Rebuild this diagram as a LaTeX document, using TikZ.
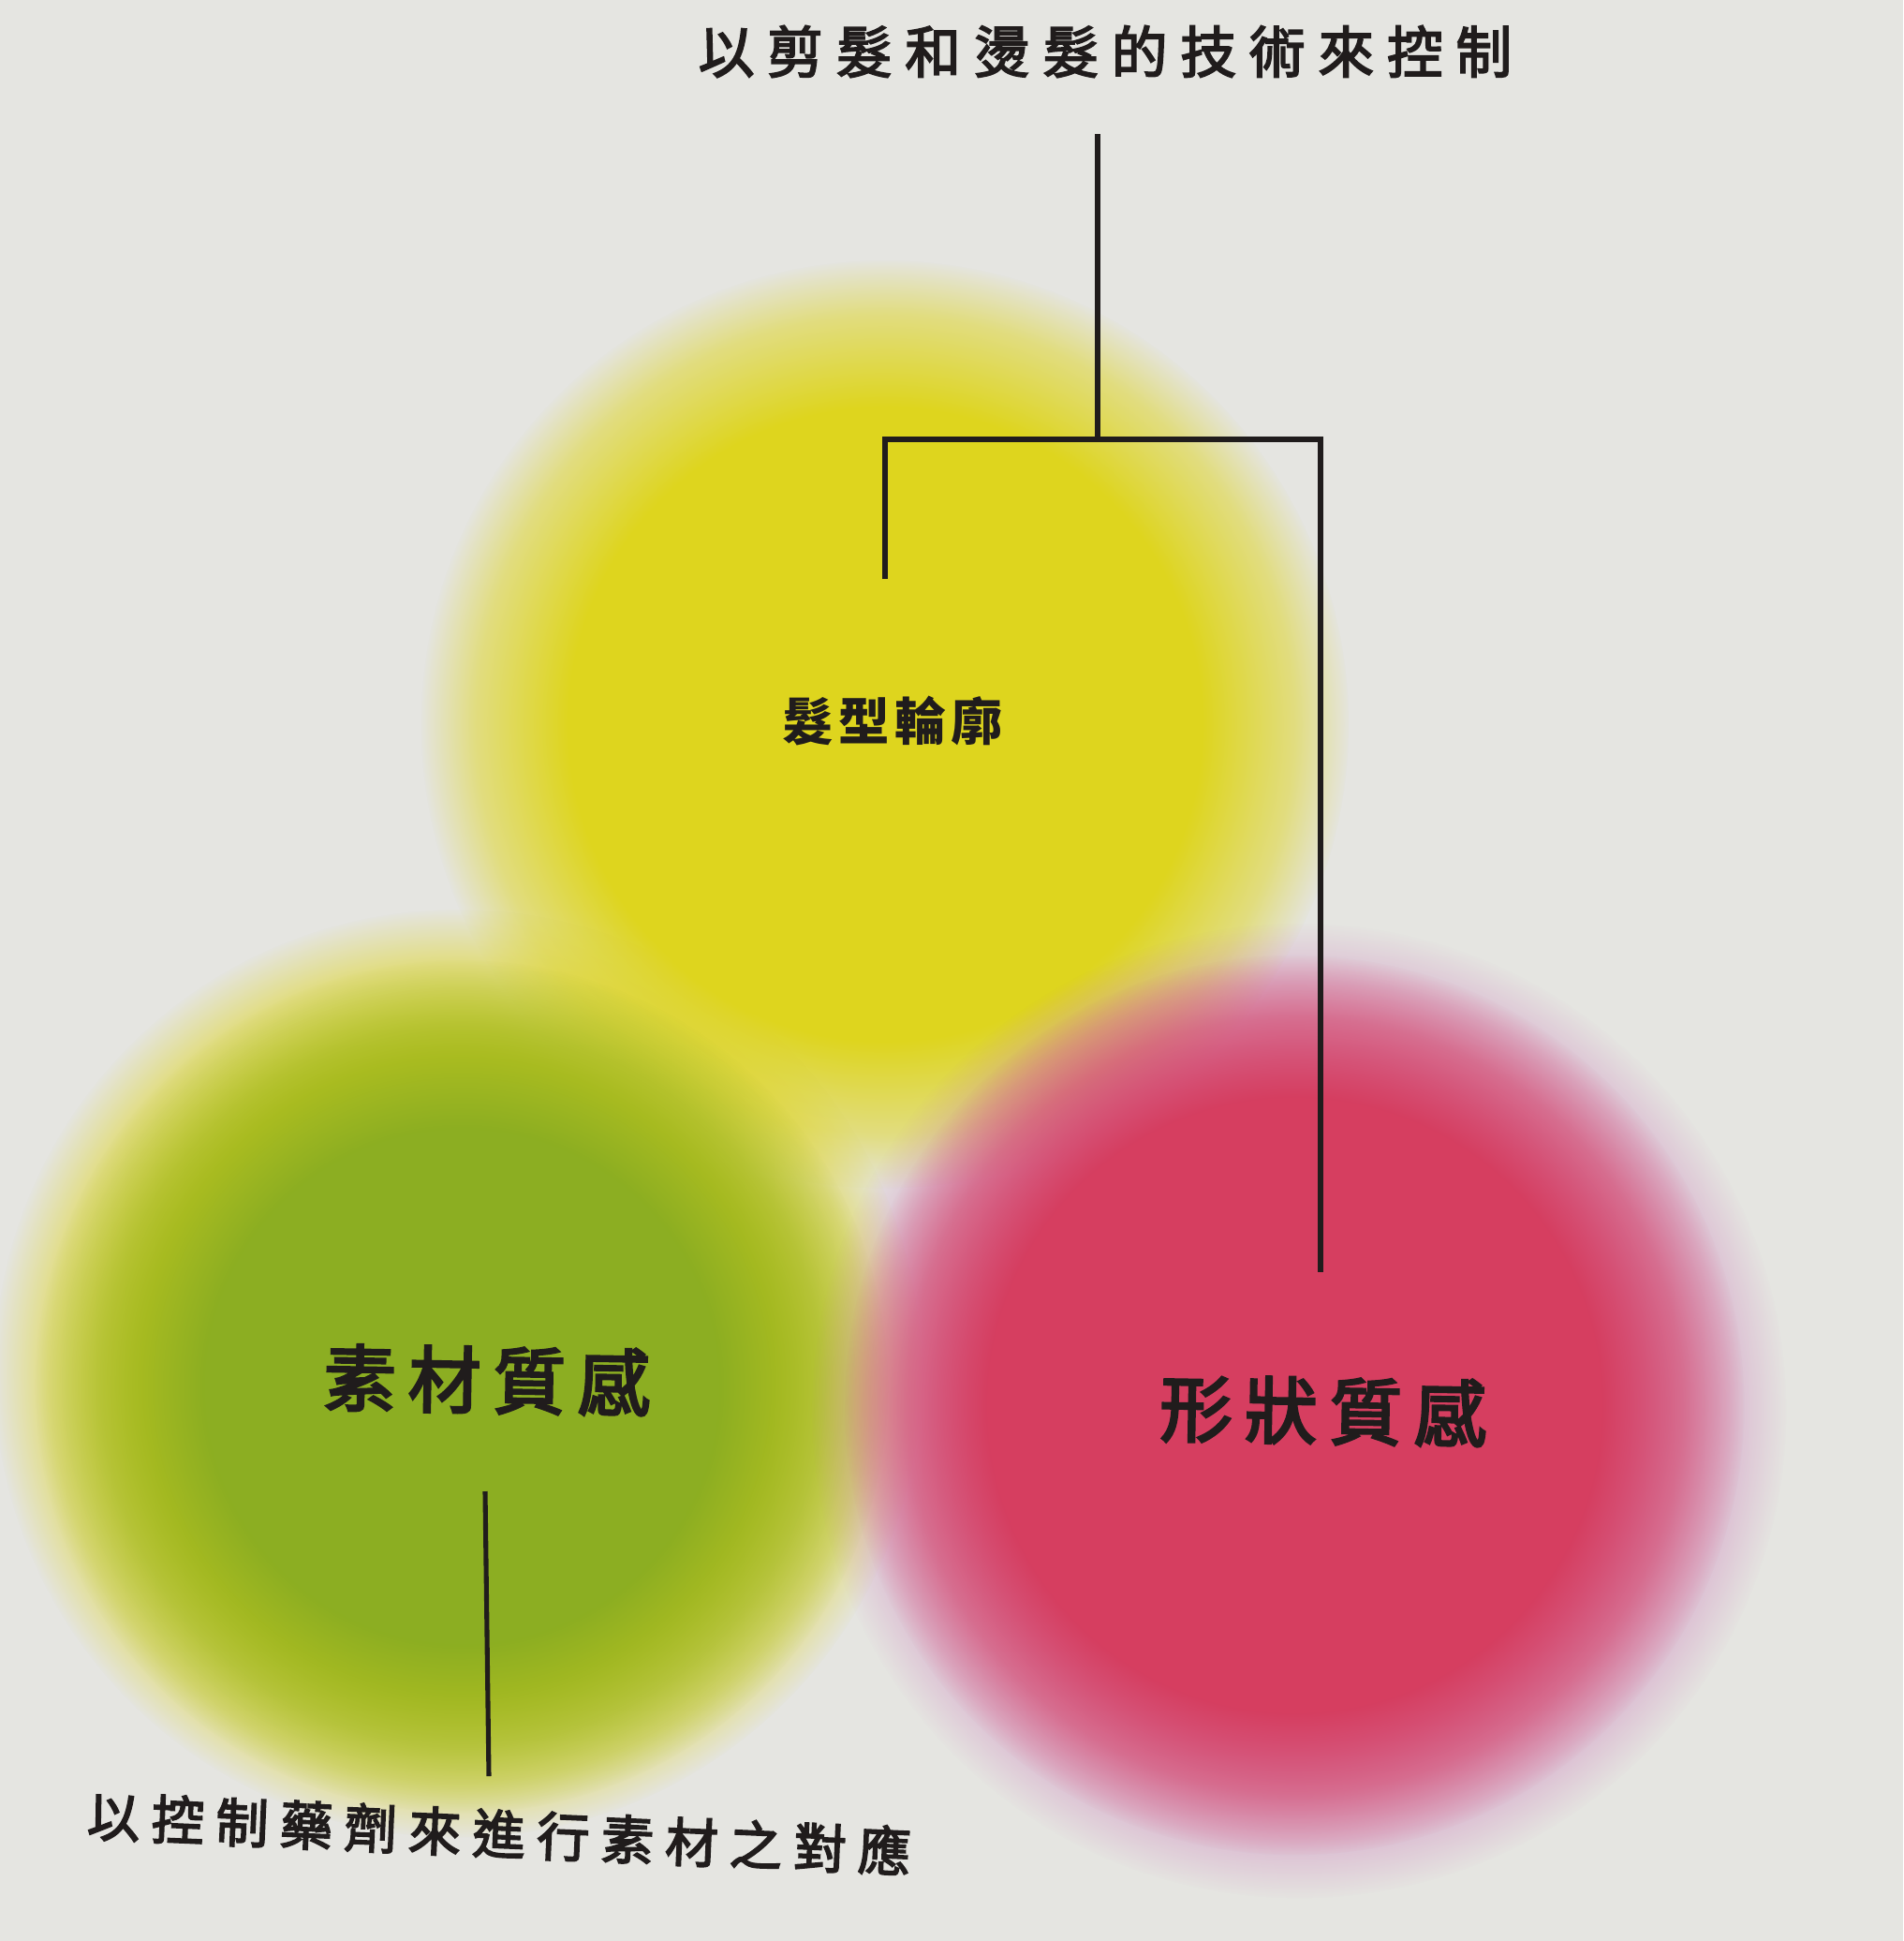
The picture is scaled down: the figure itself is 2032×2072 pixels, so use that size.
\documentclass[tikz,border=0pt]{standalone}
\usepackage{fontspec}
\newfontfamily\cjkT[LetterSpace=23,FakeBold=3]{Noto Sans CJK TC}
\newfontfamily\cjkB[LetterSpace=22,FakeBold=3]{Noto Sans CJK TC}
\newfontfamily\cjkL[LetterSpace=17,FakeBold=3.5]{Noto Sans CJK TC}
\newfontfamily\cjkM[LetterSpace=10]{Noto Sans CJK TC}
\usetikzlibrary{fadings}
\pgfdeclareradialshading{softY}{\pgfpointorigin}{color(0bp)=(white); color(17bp)=(white); color(22bp)=(black!50); color(25bp)=(black); color(50bp)=(black)}
\pgfdeclarefading{softY}{\pgfuseshading{softY}}
\pgfdeclareradialshading{softG}{\pgfpointorigin}{color(0bp)=(white); color(15bp)=(white); color(21bp)=(black!50); color(25bp)=(black); color(50bp)=(black)}
\pgfdeclarefading{softG}{\pgfuseshading{softG}}
\pgfdeclareradialshading{softR}{\pgfpointorigin}{color(0bp)=(white); color(17bp)=(white); color(21.5bp)=(black!45); color(25bp)=(black); color(50bp)=(black)}
\pgfdeclarefading{softR}{\pgfuseshading{softR}}
\definecolor{bgc}{RGB}{229,229,225}
\definecolor{yel}{RGB}{222,213,30}
\definecolor{grn}{RGB}{140,174,34}
\definecolor{redc}{RGB}{214,62,96}
\definecolor{purp}{RGB}{204,118,184}
\definecolor{ink}{RGB}{32,28,28}
\tikzset{
  blobY/.style={path fading=softY},
  blobG/.style={path fading=softG},
  blobR/.style={path fading=softR},
  conn/.style={draw=ink, line width=1.45pt, line join=miter},
  lbl/.style={inner sep=0pt, text=ink}
}
\begin{document}
\begin{tikzpicture}[x=0.01cm,y=-0.01cm]
\useasboundingbox (0,0) rectangle (2032,2072);
\fill[bgc] (0,0) rectangle (2032,2072);
% blobs
\fill[yel, blobY] (945,773) circle (4.95cm);
\fill[yel, blobY] (489,1466) circle (4.95cm);
\fill[grn, blobG] (493,1480) circle (4.55cm);
\fill[purp, blobY, opacity=0.75] (1387,1506) circle (5.2cm);
\fill[redc, blobR] (1382,1500) circle (4.8cm);
% texts
\node[lbl, font=\cjkT\fontsize{17pt}{20pt}\selectfont] (top) at (1180,55) {以剪髮和燙髮的技術來控制};
\node[lbl, font=\cjkM\bfseries\fontsize{15.5pt}{18pt}\selectfont] (shape) at (953,770) {髮型輪廓};
\node[lbl, font=\cjkL\fontsize{22pt}{26pt}\selectfont, rotate=-1] (mat) at (520,1473) {素材質感};
\node[lbl, font=\cjkL\fontsize{22pt}{26pt}\selectfont, rotate=-1] (form) at (1413,1506) {形狀質感};
\node[lbl, font=\cjkB\fontsize{16pt}{19pt}\selectfont, rotate=-2.5] (bot) at (533,1957) {以控制藥劑來進行素材之對應};
% connectors
\coordinate (jtop) at (1172,143);
\coordinate (j) at (1172,469);
\coordinate (lend) at (945,618);
\coordinate (rend) at (1410,1358);
\coordinate (b1) at (518,1592);
\coordinate (b2) at (522,1896);
\draw[conn] (jtop) -- (j);
\draw[conn] (lend) |- (j) -| (rend);
\draw[conn] (b1) -- (b2);
\end{tikzpicture}
\end{document}
